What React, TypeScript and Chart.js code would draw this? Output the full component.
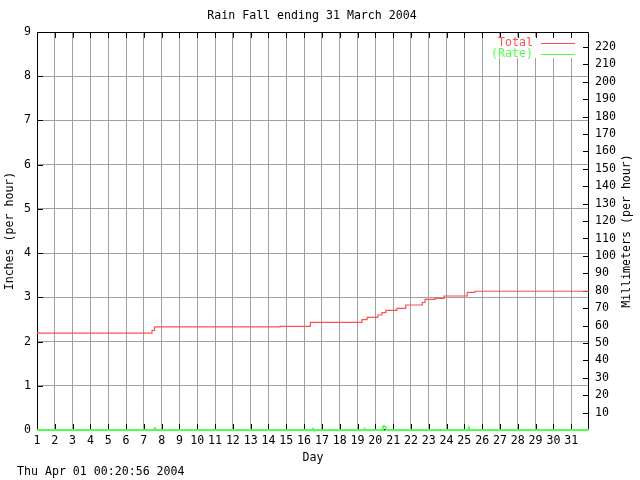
import React, { useEffect, useRef } from "react";
import { Chart, registerables } from "chart.js";

Chart.register(...registerables);

// ---- text ----
const TITLE = "Rain Fall ending 31 March 2004";
const FOOTER = "Thu Apr 01 00:20:56 2004";
const X_LABEL = "Day";
const Y_LABEL = "Inches (per hour)";
const Y2_LABEL = "Millimeters (per hour)";
const SERIES_NAMES = ["Total", "(Rate)"];

// ---- data ----
// Cumulative rain total (inches); value changes at the given day
const totalDays = [1, 7.46, 7.6, 14.65, 16.35, 19.25, 19.54, 20.14, 20.37, 20.59, 21.21, 21.71, 22.64, 22.79, 23.35, 23.86, 25.16, 25.59, 32];
const totalInches = [2.19, 2.255, 2.33, 2.345, 2.435, 2.494, 2.549, 2.6, 2.653, 2.707, 2.752, 2.827, 2.883, 2.956, 2.978, 3.03, 3.114, 3.137, 3.137];

// Rain rate (inches per hour)
const rateDays = [1, 7.55, 7.62, 7.7, 16.45, 16.5, 16.55, 19.35, 19.4, 19.45, 20.38, 20.43, 20.5, 20.57, 20.62, 25.2, 25.25, 25.3, 32];
const rateInches = [0, 0, 0.04, 0, 0, 0.03, 0, 0, 0.03, 0, 0, 0.08, 0.09, 0.07, 0, 0, 0.05, 0, 0];

// ---- ticks ----
const dayTicks = [1, 2, 3, 4, 5, 6, 7, 8, 9, 10, 11, 12, 13, 14, 15, 16, 17, 18, 19, 20, 21, 22, 23, 24, 25, 26, 27, 28, 29, 30, 31];
const inchTicks = [0, 1, 2, 3, 4, 5, 6, 7, 8, 9];
const mmTicks = [10, 20, 30, 40, 50, 60, 70, 80, 90, 100, 110, 120, 130, 140, 150, 160, 170, 180, 190, 200, 210, 220];

const DAY_MIN = 1;
const DAY_MAX = 32;
const INCH_MAX = 9;
const MM_PER_INCH = 25.4;

const RED = "#ff5050";
const GREEN = "#50ff50";
const GRID = "#a0a0a0";
const FONT_FAMILY = "'DejaVu Sans Mono', 'Liberation Mono', monospace";
const FONT_SIZE = 11.6;

const framePlugin = {
  id: "frame",
  beforeDatasetsDraw(chart: any) {
    const { ctx, chartArea, scales } = chart;
    const { left, right, top, bottom } = chartArea;
    ctx.save();
    // blank area behind the key
    ctx.fillStyle = "#ffffff";
    ctx.fillRect(right - 99, top + 5, 95, 21);

    ctx.strokeStyle = "#000000";
    ctx.lineWidth = 1;
    ctx.beginPath();
    // border
    ctx.rect(left + 0.5, top + 0.5, right - left - 1, bottom - top - 1);
    // x ticks (inside, bottom and top)
    const x = scales.x;
    for (const d of dayTicks) {
      const px = Math.round(x.getPixelForValue(d)) + 0.5;
      ctx.moveTo(px, bottom);
      ctx.lineTo(px, bottom - 6);
      ctx.moveTo(px, top);
      ctx.lineTo(px, top + 6);
    }
    // left ticks
    const y = scales.y;
    for (const v of inchTicks) {
      const py = Math.round(y.getPixelForValue(v)) + 0.5;
      ctx.moveTo(left, py);
      ctx.lineTo(left + 6, py);
    }
    // right ticks
    const y2 = scales.y2;
    for (const v of mmTicks) {
      const py = Math.round(y2.getPixelForValue(v)) + 0.5;
      ctx.moveTo(right - 6, py);
      ctx.lineTo(right, py);
    }
    ctx.stroke();
    ctx.restore();
  },
  afterDraw(chart: any) {
    const { ctx, chartArea } = chart;
    const { left, right, top, bottom } = chartArea;
    ctx.save();
    ctx.font = `${FONT_SIZE}px ${FONT_FAMILY}`;
    ctx.textBaseline = "middle";
    ctx.fillStyle = "#000";

    // title
    ctx.textAlign = "center";
    ctx.fillText(TITLE, (left + right) / 2 - 1, 16);

    // footer
    ctx.textAlign = "left";
    ctx.fillText(FOOTER, 17, 472);

    // right axis title (reads bottom to top)
    ctx.save();
    ctx.translate(627, (top + bottom) / 2);
    ctx.rotate(-Math.PI / 2);
    ctx.textAlign = "center";
    ctx.fillText(Y2_LABEL, 0, 0);
    ctx.restore();

    // key
    const ds = chart.data.datasets;
    ds.forEach((d: any, i: number) => {
      const rowY = top + 11 + i * 11;
      ctx.fillStyle = d.borderColor;
      ctx.textAlign = "right";
      ctx.fillText(d.label, right - 56, rowY);
      ctx.strokeStyle = d.borderColor;
      ctx.lineWidth = 1;
      ctx.beginPath();
      ctx.moveTo(right - 48, Math.round(rowY) + 0.5);
      ctx.lineTo(right - 14, Math.round(rowY) + 0.5);
      ctx.stroke();
    });
    ctx.restore();
  },
};

export default function App() {
  const canvasRef = useRef<HTMLCanvasElement | null>(null);

  useEffect(() => {
    const canvas = canvasRef.current;
    if (!canvas) return;
    const font = { family: FONT_FAMILY, size: FONT_SIZE };
    const chart = new Chart(canvas, {
      type: "line",
      data: {
        datasets: [
          {
            label: SERIES_NAMES[0],
            data: totalDays.map((d, i) => ({ x: d, y: totalInches[i] })),
            borderColor: RED,
            backgroundColor: RED,
            borderWidth: 1.2,
            pointRadius: 0,
            stepped: true,
            fill: false,
            clip: false,
            yAxisID: "y",
          },
          {
            label: SERIES_NAMES[1],
            data: rateDays.map((d, i) => ({ x: d, y: rateInches[i] })),
            borderColor: GREEN,
            backgroundColor: GREEN,
            borderWidth: 2,
            pointRadius: 0,
            tension: 0,
            fill: false,
            clip: false,
            yAxisID: "y",
          },
        ],
      },
      options: {
        animation: false,
        responsive: false,
        devicePixelRatio: 1,
        layout: { padding: { top: 32, left: 0, right: 0, bottom: 0 } },
        plugins: {
          legend: { display: false },
          title: { display: false },
          tooltip: { enabled: false },
        },
        scales: {
          x: {
            type: "linear",
            min: DAY_MIN,
            max: DAY_MAX,
            afterBuildTicks: (s: any) => {
              s.ticks = dayTicks.map((v) => ({ value: v }));
            },
            afterFit: (s: any) => {
              s.height = 50;
            },
            ticks: {
              font,
              color: "#000",
              padding: 4,
              autoSkip: false,
              maxRotation: 0,
              minRotation: 0,
              callback: (v: any) => String(v),
            },
            grid: { color: GRID, lineWidth: 1, drawTicks: false },
            border: { display: false },
            title: {
              display: true,
              text: X_LABEL,
              font,
              color: "#000",
              padding: { top: 0, bottom: 15 },
            },
          },
          y: {
            type: "linear",
            position: "left",
            min: 0,
            max: INCH_MAX,
            afterBuildTicks: (s: any) => {
              s.ticks = inchTicks.map((v) => ({ value: v }));
            },
            afterFit: (s: any) => {
              s.width = 37;
            },
            ticks: { font, color: "#000", padding: 6, callback: (v: any) => String(v) },
            grid: { color: GRID, lineWidth: 1, drawTicks: false },
            border: { display: false },
            title: {
              display: true,
              text: Y_LABEL,
              font,
              color: "#000",
              padding: { top: 3, bottom: 0 },
            },
          },
          y2: {
            type: "linear",
            position: "right",
            min: 0,
            max: INCH_MAX * MM_PER_INCH,
            afterBuildTicks: (s: any) => {
              s.ticks = mmTicks.map((v) => ({ value: v }));
            },
            afterFit: (s: any) => {
              s.width = 51;
            },
            ticks: { font, color: "#000", padding: 6, callback: (v: any) => String(v) },
            grid: { display: false, drawTicks: false },
            border: { display: false },
            title: { display: false },
          },
        },
      } as any,
      plugins: [framePlugin],
    });
    return () => chart.destroy();
  }, []);

  return (
    <div style={{ position: "fixed", left: 0, top: 0, width: 640, height: 480, background: "#fff" }}>
      <canvas ref={canvasRef} width={640} height={480} style={{ display: "block" }} />
    </div>
  );
}
